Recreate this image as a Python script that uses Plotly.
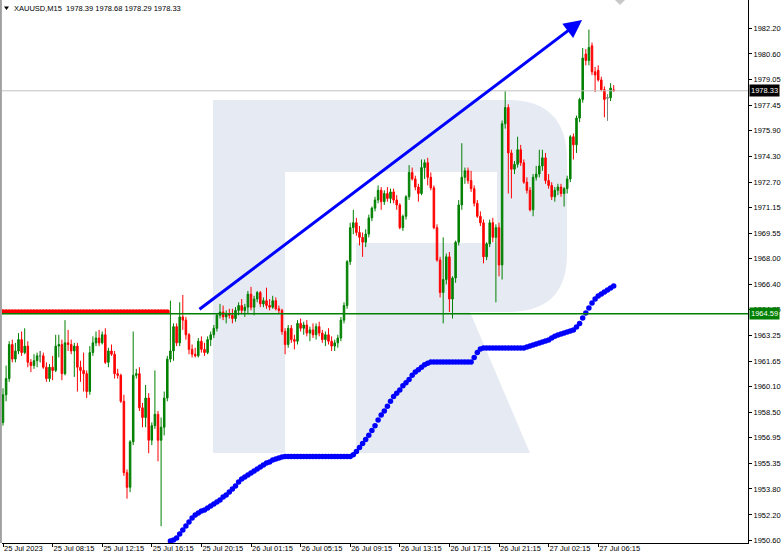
import plotly.graph_objects as go

title_text = "XAUUSD,M15\u00a0 1978.39 1978.68 1978.29 1978.33"

x_tick_index = [0, 16, 32, 48, 64, 80, 96, 112, 128, 144, 160, 176, 192]
x_tick_labels = ["25 Jul 2023", "25 Jul 08:15", "25 Jul 12:15", "25 Jul 16:15", "25 Jul 20:15",
                 "26 Jul 01:15", "26 Jul 05:15", "26 Jul 09:15", "26 Jul 13:15", "26 Jul 17:15",
                 "26 Jul 21:15", "27 Jul 02:15", "27 Jul 06:15"]
y_tick_values = [1982.20, 1980.60, 1979.05, 1977.45, 1975.90, 1974.30, 1972.70, 1971.15, 1969.55,
                 1968.00, 1966.40, 1964.85, 1963.25, 1961.65, 1960.10, 1958.50, 1956.95, 1955.35,
                 1953.80, 1952.20, 1950.60]
y_tick_labels = ["%.2f" % v for v in y_tick_values]

open_ = [1957.9, 1959.6, 1960.6, 1962.7, 1961.8, 1962.3, 1963.0, 1962.2, 1962.6, 1961.6,
         1961.4, 1961.7, 1962.0, 1962.0, 1961.3, 1960.6, 1961.3, 1961.1, 1962.6, 1962.7,
         1960.9, 1962.8, 1962.7, 1962.3, 1962.6, 1961.3, 1961.1, 1960.9, 1959.8, 1962.2,
         1962.8, 1963.1, 1962.8, 1963.3, 1961.6, 1962.3, 1962.1, 1960.9, 1960.8, 1959.2,
         1954.8, 1953.9, 1956.7, 1960.8, 1960.9, 1958.8, 1958.2, 1959.4, 1956.8, 1957.7,
         1958.4, 1956.8, 1957.6, 1959.4, 1961.8, 1962.3, 1963.8, 1962.8, 1964.4, 1964.2,
         1963.3, 1962.4, 1962.1, 1962.0, 1962.9, 1962.4, 1962.2, 1963.0, 1963.3, 1963.7,
         1964.5, 1964.7, 1964.4, 1964.6, 1964.5, 1964.3, 1964.8, 1965.1, 1964.8, 1965.0,
         1965.8, 1965.0, 1965.5, 1965.9, 1965.2, 1965.4, 1965.1, 1965.0, 1965.4, 1964.9,
         1964.8, 1963.5, 1962.7, 1963.7, 1963.0, 1962.9, 1964.0, 1963.7, 1963.9, 1963.4,
         1963.6, 1963.3, 1963.8, 1963.4, 1963.0, 1963.3, 1962.9, 1962.6, 1962.8, 1963.1,
         1964.2, 1965.1, 1967.8, 1969.9, 1970.2, 1969.6, 1969.3, 1969.0, 1969.5, 1970.5,
         1971.1, 1971.6, 1972.2, 1971.5, 1972.0, 1971.7, 1972.1, 1971.6, 1971.3, 1969.9,
         1970.6, 1971.8, 1973.3, 1972.9, 1972.4, 1972.0, 1973.6, 1973.9, 1973.0, 1972.35,
         1969.9, 1967.9, 1965.9, 1966.7, 1968.1, 1965.5, 1966.8, 1969.0, 1971.3, 1973.0,
         1973.4, 1972.8, 1972.3, 1971.4, 1970.6, 1970.2, 1968.1, 1968.9, 1970.2, 1969.3,
         1969.9, 1967.6, 1976.3, 1977.3, 1974.5, 1973.5, 1973.8, 1974.7, 1973.9, 1972.7,
         1972.2, 1971.0, 1973.0, 1973.2, 1973.7, 1974.2, 1972.8, 1972.5, 1971.8, 1972.2,
         1972.4, 1972.0, 1972.3, 1972.9, 1975.5, 1975.0, 1976.65, 1977.8, 1980.6, 1980.2,
         1981.1, 1979.5, 1979.6, 1979.0, 1978.4, 1977.9, 1977.9, 1978.39]
high = [1960.0, 1961.4, 1962.9, 1963.0, 1962.8, 1963.4, 1963.5, 1963.7, 1962.9, 1961.8,
        1962.1, 1962.2, 1962.3, 1962.2, 1961.6, 1961.5, 1962.0, 1963.3, 1963.3, 1963.0,
        1964.2, 1963.6, 1963.0, 1962.8, 1962.8, 1961.7, 1962.2, 1961.1, 1962.6, 1963.2,
        1963.5, 1963.6, 1963.5, 1963.7, 1962.5, 1962.7, 1962.3, 1961.2, 1960.9, 1959.6,
        1955.0, 1956.8, 1963.5, 1961.2, 1961.3, 1959.1, 1960.2, 1959.7, 1957.9, 1961.1,
        1958.6, 1958.2, 1959.8, 1962.0, 1965.4, 1964.0, 1964.0, 1965.3, 1965.75, 1964.4,
        1963.4, 1962.7, 1962.5, 1963.1, 1963.2, 1962.8, 1963.2, 1963.5, 1963.9, 1964.6,
        1965.2, 1965.1, 1964.8, 1964.9, 1964.9, 1965.0, 1965.3, 1965.5, 1965.2, 1966.0,
        1966.25, 1965.7, 1966.0, 1966.0, 1965.6, 1966.2, 1965.5, 1965.7, 1965.6, 1965.1,
        1964.9, 1963.7, 1963.9, 1963.9, 1963.3, 1964.2, 1964.3, 1964.1, 1964.2, 1963.8,
        1964.0, 1964.0, 1964.1, 1963.6, 1963.5, 1963.7, 1963.2, 1963.0, 1963.3, 1964.4,
        1965.3, 1967.9, 1970.2, 1971.0, 1970.5, 1970.0, 1969.6, 1969.8, 1970.7, 1971.2,
        1971.8, 1972.5, 1972.4, 1972.2, 1972.4, 1972.3, 1972.3, 1971.9, 1971.4, 1970.7,
        1971.9, 1973.75, 1973.6, 1973.1, 1972.6, 1974.1, 1974.1, 1974.2, 1973.3, 1972.5,
        1970.1, 1968.1, 1969.3, 1968.3, 1968.4, 1966.9, 1969.1, 1971.6, 1975.1, 1973.6,
        1973.6, 1973.4, 1972.5, 1971.6, 1970.9, 1970.4, 1969.0, 1970.4, 1970.5, 1970.1,
        1970.2, 1976.5, 1978.3, 1977.5, 1974.7, 1974.0, 1975.5, 1975.0, 1974.1, 1973.0,
        1972.4, 1973.2, 1973.7, 1974.7, 1974.7, 1974.5, 1973.2, 1972.7, 1972.4, 1972.6,
        1972.6, 1972.4, 1973.1, 1975.6, 1975.7, 1976.8, 1977.9, 1980.97, 1980.9, 1982.1,
        1981.3, 1979.8, 1979.9, 1979.2, 1978.6, 1978.1, 1978.8, 1978.68]
low = [1957.7, 1959.2, 1960.4, 1961.6, 1961.6, 1962.1, 1962.0, 1962.1, 1961.3, 1961.0,
       1961.2, 1961.3, 1961.6, 1961.2, 1960.4, 1960.4, 1960.5, 1961.0, 1961.9, 1960.5,
       1960.8, 1962.3, 1962.1, 1960.7, 1959.8, 1960.4, 1959.8, 1959.4, 1959.6, 1962.0,
       1962.6, 1962.6, 1962.7, 1961.5, 1961.3, 1962.0, 1960.6, 1960.6, 1959.1, 1954.6,
       1953.2, 1953.6, 1956.5, 1960.6, 1958.6, 1957.6, 1957.6, 1956.0, 1956.5, 1957.5,
       1955.5, 1951.5, 1957.1, 1959.2, 1961.6, 1961.7, 1962.6, 1962.6, 1963.6, 1963.0,
       1962.1, 1961.9, 1961.9, 1961.9, 1962.2, 1962.0, 1962.1, 1962.6, 1963.1, 1963.5,
       1964.3, 1964.2, 1964.0, 1964.3, 1964.0, 1964.1, 1964.5, 1964.6, 1964.4, 1964.6,
       1964.8, 1964.5, 1965.3, 1965.0, 1965.0, 1964.9, 1964.8, 1964.9, 1964.8, 1964.6,
       1963.3, 1962.1, 1962.5, 1962.8, 1962.4, 1962.7, 1963.5, 1963.3, 1963.2, 1962.9,
       1963.1, 1963.0, 1963.2, 1962.8, 1962.6, 1962.7, 1962.3, 1962.3, 1962.5, 1962.9,
       1964.0, 1964.9, 1967.6, 1969.5, 1969.4, 1968.8, 1968.1, 1968.7, 1969.3, 1970.3,
       1970.9, 1971.4, 1971.0, 1971.3, 1971.5, 1971.4, 1971.4, 1971.0, 1969.8, 1969.7,
       1970.4, 1971.6, 1972.8, 1972.2, 1971.5, 1971.9, 1972.9, 1972.5, 1972.2, 1969.8,
       1967.8, 1965.6, 1964.0, 1966.4, 1964.7, 1964.3, 1966.5, 1968.8, 1971.0, 1972.6,
       1972.6, 1972.1, 1971.2, 1970.5, 1970.0, 1967.7, 1967.9, 1968.7, 1969.0, 1965.3,
       1966.9, 1966.7, 1976.0, 1972.0, 1971.7, 1973.2, 1973.6, 1973.7, 1972.6, 1972.0,
       1970.9, 1970.6, 1972.8, 1973.0, 1973.4, 1972.6, 1972.3, 1971.6, 1971.5, 1971.9,
       1971.8, 1971.2, 1972.0, 1972.7, 1974.1, 1974.5, 1976.4, 1977.6, 1979.9, 1979.9,
       1979.3, 1978.25, 1978.9, 1978.3, 1976.7, 1976.5, 1977.7, 1978.29]
close = [1959.6, 1960.6, 1962.7, 1961.8, 1962.3, 1963.0, 1962.2, 1962.6, 1961.6, 1961.4,
         1961.7, 1962.0, 1962.0, 1961.3, 1960.6, 1961.3, 1961.1, 1962.6, 1962.7, 1960.9,
         1962.8, 1962.7, 1962.3, 1962.6, 1961.3, 1961.1, 1960.9, 1959.8, 1962.2, 1962.8,
         1963.1, 1962.8, 1963.3, 1961.6, 1962.3, 1962.1, 1960.9, 1960.8, 1959.2, 1954.8,
         1953.9, 1956.7, 1960.8, 1960.9, 1958.8, 1958.2, 1959.4, 1956.8, 1957.7, 1958.4,
         1956.8, 1957.6, 1959.4, 1961.8, 1962.3, 1963.8, 1962.8, 1964.4, 1964.2, 1963.3,
         1962.4, 1962.1, 1962.0, 1962.9, 1962.4, 1962.2, 1963.0, 1963.3, 1963.7, 1964.5,
         1964.7, 1964.4, 1964.6, 1964.5, 1964.3, 1964.8, 1965.1, 1964.8, 1965.0, 1965.8,
         1965.0, 1965.5, 1965.9, 1965.2, 1965.4, 1965.1, 1965.0, 1965.4, 1964.9, 1964.8,
         1963.5, 1962.7, 1963.7, 1963.0, 1962.9, 1964.0, 1963.7, 1963.9, 1963.4, 1963.6,
         1963.3, 1963.8, 1963.4, 1963.0, 1963.3, 1962.9, 1962.6, 1962.8, 1963.1, 1964.2,
         1965.1, 1967.8, 1969.9, 1970.2, 1969.6, 1969.3, 1969.0, 1969.5, 1970.5, 1971.1,
         1971.6, 1972.2, 1971.5, 1972.0, 1971.7, 1972.1, 1971.6, 1971.3, 1969.9, 1970.6,
         1971.8, 1973.3, 1972.9, 1972.4, 1972.0, 1973.6, 1973.9, 1973.0, 1972.35, 1969.9,
         1967.9, 1965.9, 1966.7, 1968.1, 1965.5, 1966.8, 1969.0, 1971.3, 1973.0, 1973.4,
         1972.8, 1972.3, 1971.4, 1970.6, 1970.2, 1968.1, 1968.9, 1970.2, 1969.3, 1969.9,
         1967.6, 1976.3, 1977.3, 1974.5, 1973.5, 1973.8, 1974.7, 1973.9, 1972.7, 1972.2,
         1971.0, 1973.0, 1973.2, 1973.7, 1974.2, 1972.8, 1972.5, 1971.8, 1972.2, 1972.4,
         1972.0, 1972.3, 1972.9, 1975.5, 1975.0, 1976.65, 1977.8, 1980.35, 1980.2, 1981.0,
         1979.5, 1979.3, 1979.0, 1978.4, 1977.8, 1977.9, 1978.5, 1978.33]

# indicator dots: red (bars 0..53) then blue (bars 54..197)
red_dot_start = 0
red_dots = [1964.72] * 54
blue_dot_start = 54
blue_dots = [1950.59, 1950.65, 1950.78, 1951.02, 1951.27, 1951.52, 1951.76, 1952.01, 1952.19, 1952.32,
             1952.44, 1952.50, 1952.63, 1952.75, 1952.87, 1953.00, 1953.12, 1953.30, 1953.43, 1953.61,
             1953.80, 1953.98, 1954.23, 1954.41, 1954.54, 1954.66, 1954.78, 1954.90, 1955.03, 1955.15,
             1955.27, 1955.40, 1955.46, 1955.58, 1955.64, 1955.71, 1955.77,
             1955.80, 1955.80, 1955.80, 1955.80, 1955.80, 1955.80, 1955.80, 1955.80, 1955.80, 1955.80,
             1955.80, 1955.80, 1955.80, 1955.80, 1955.80, 1955.80, 1955.80, 1955.80, 1955.80, 1955.80,
             1955.80, 1955.80,
             1955.90, 1956.10, 1956.35, 1956.60, 1956.85, 1957.10, 1957.40, 1957.70, 1958.05, 1958.35,
             1958.60, 1958.90, 1959.20, 1959.50, 1959.70, 1959.90, 1960.15, 1960.35, 1960.55, 1960.80,
             1961.00, 1961.15, 1961.30, 1961.45, 1961.55,
             1961.62, 1961.62, 1961.62, 1961.62, 1961.62, 1961.62, 1961.62, 1961.62, 1961.62, 1961.62,
             1961.62, 1961.62, 1961.62, 1961.62,
             1961.90, 1962.20, 1962.42,
             1962.48, 1962.48, 1962.48, 1962.48, 1962.48, 1962.48, 1962.48, 1962.48, 1962.48, 1962.48,
             1962.48, 1962.48, 1962.48, 1962.48,
             1962.54, 1962.60, 1962.67, 1962.73, 1962.79, 1962.85, 1962.91, 1962.98, 1963.10, 1963.20,
             1963.28, 1963.35, 1963.41, 1963.47, 1963.53, 1963.60, 1963.78, 1964.00, 1964.33, 1964.64,
             1964.95, 1965.26, 1965.50, 1965.69, 1965.81, 1965.93, 1966.06, 1966.18, 1966.30]

hline_level = 1964.59
last_price = 1978.33
trend_start = (62.9, 1964.80)
trend_end = (186.8, 1982.69)

FONT = "Liberation Sans, Arial, sans-serif"
W, H = 782, 556
ML, MR, MT, MB = 2, 34, 0, 13
PW, PH = W - ML - MR, H - MT - MB

def P(X, Y):
    return ((X - ML) / PW, 1 - (Y - MT) / PH)

def path(points, closed=True):
    s = ""
    for k, pt in enumerate(points):
        if pt[0] == "Q":
            c = P(*pt[1]); e = P(*pt[2])
            s += " Q %.5f,%.5f %.5f,%.5f" % (c[0], c[1], e[0], e[1])
        else:
            x, y = P(*pt)
            s += ("M" if k == 0 else " L") + " %.5f,%.5f" % (x, y)
    return s + (" Z" if closed else "")

wm = "#e6ebf3"
shapes = []
# watermark "R"
shapes.append(dict(type="path", xref="paper", yref="paper", layer="below", line=dict(width=0), fillcolor=wm,
                   path=path([(213, 100), (285, 100), (285, 453), (213, 453)])))
shapes.append(dict(type="path", xref="paper", yref="paper", layer="below", line=dict(width=0), fillcolor=wm,
                   path=path([(285, 100), (508, 100), ("Q", (567, 100), (567, 160)), (567, 254),
                              ("Q", (567, 312), (508, 312)), (356, 312), (356, 243), (497, 243),
                              (497, 172), (285, 172)])))
shapes.append(dict(type="path", xref="paper", yref="paper", layer="below", line=dict(width=0), fillcolor=wm,
                   path=path([(356, 312), (470, 312), (530, 453), (356, 453)])))
# left border
shapes.append(dict(type="line", xref="paper", yref="paper", x0=-0.0015, x1=-0.0015, y0=0, y1=1,
                   line=dict(color="#a0a0a0", width=2)))
# price line
shapes.append(dict(type="line", xref="paper", yref="y", x0=0, x1=1, y0=last_price, y1=last_price,
                   line=dict(color="#c0c0c0", width=1)))
# top-left small triangle and chart shift marker
shapes.append(dict(type="path", xref="paper", yref="paper", fillcolor="#000000", line=dict(width=0),
                   path=path([(4, 6.5), (9, 6.5), (6.5, 10)])))
shapes.append(dict(type="path", xref="paper", yref="paper", fillcolor="#c8c8c8", line=dict(width=0),
                   path=path([(615, 0), (625, 0), (620, 5)])))

idx = list(range(len(close)))

fig = go.Figure()
fig.add_trace(go.Candlestick(
    x=idx, open=open_, high=high, low=low, close=close,
    increasing=dict(line=dict(color="#008000", width=1), fillcolor="#008000"),
    decreasing=dict(line=dict(color="#ff0000", width=1), fillcolor="#ff0000"),
    whiskerwidth=0, showlegend=False, hoverinfo="skip"))

# doji candles in gray
dx, dy = [], []
for i in idx:
    if open_[i] == close[i]:
        dx += [i, i, None, i - 0.35, i + 0.35, None]
        dy += [low[i], high[i], None, close[i], close[i], None]
fig.add_trace(go.Scatter(x=dx, y=dy, mode="lines", line=dict(color="#808080", width=1),
                         showlegend=False, hoverinfo="skip"))

fig.add_trace(go.Scatter(x=list(range(red_dot_start, red_dot_start + len(red_dots))), y=red_dots,
                         mode="markers", marker=dict(color="#ff0000", size=5), showlegend=False,
                         hoverinfo="skip"))
fig.add_trace(go.Scatter(x=list(range(blue_dot_start, blue_dot_start + len(blue_dots))), y=blue_dots,
                         mode="markers", marker=dict(color="#0000ff", size=5.5), showlegend=False,
                         hoverinfo="skip"))

annotations = [
    dict(xref="paper", yref="paper", x=P(12, 0)[0], y=P(0, 8.5)[1], xanchor="left", yanchor="middle",
         text=title_text, showarrow=False, font=dict(family=FONT, size=7.5, color="#000000")),
    dict(xref="paper", yref="y", x=P(749, 0)[0], y=last_price, xanchor="left", yanchor="middle",
         text="%.2f" % last_price, showarrow=False, bgcolor="#000000", borderpad=1,
         font=dict(family=FONT, size=7.5, color="#ffffff")),
    dict(xref="paper", yref="y", x=P(749, 0)[0], y=hline_level, xanchor="left", yanchor="middle",
         text="%.2f" % hline_level, showarrow=False, bgcolor="#008000", borderpad=1,
         font=dict(family=FONT, size=7.5, color="#ffffff")),
    dict(x=trend_end[0], y=trend_end[1], ax=trend_start[0], ay=trend_start[1], xref="x", yref="y",
         axref="x", ayref="y", showarrow=True, arrowhead=2, arrowsize=1.2, arrowwidth=3,
         arrowcolor="#0000ff", text=""),
]

shapes.append(dict(type="line", xref="paper", yref="y", x0=0, x1=1, y0=hline_level, y1=hline_level,
                   line=dict(color="#008000", width=1.5), layer="above"))

y_top = 1982.20 + (28 - 0) / 16.23
y_bot = 1982.20 - (543 - 28) / 16.23
x_left = (ML - 3) / 3.1
x_right = (ML + PW - 3) / 3.1

fig.update_layout(
    width=W, height=H, margin=dict(l=ML, r=MR, t=MT, b=MB, autoexpand=False),
    paper_bgcolor="#ffffff", plot_bgcolor="#ffffff",
    shapes=shapes, annotations=annotations, showlegend=False,
    font=dict(family=FONT, size=7.5, color="#000000"),
    xaxis=dict(range=[x_left, x_right], showgrid=False, zeroline=False, rangeslider=dict(visible=False),
               tickmode="array", tickvals=x_tick_index, ticktext=x_tick_labels, tickangle=0,
               ticks="outside", ticklen=3, tickcolor="#000000", ticklabelposition="outside right",
               ticklabelstandoff=-2, automargin=False,
               showline=True, linecolor="#000000", linewidth=1,
               tickfont=dict(family=FONT, size=7.5, color="#000000"), fixedrange=True),
    yaxis=dict(range=[y_bot, y_top], side="right", showgrid=False, zeroline=False,
               tickmode="array", tickvals=y_tick_values, ticktext=y_tick_labels,
               ticks="outside", ticklen=3, tickcolor="#000000", automargin=False,
               showline=True, linecolor="#000000", linewidth=1,
               tickfont=dict(family=FONT, size=7.5, color="#000000"), fixedrange=True),
)

fig.write_html("out.html", config={"displayModeBar": False},
               post_script="document.body.style.margin='0';document.body.style.overflow='hidden';")
